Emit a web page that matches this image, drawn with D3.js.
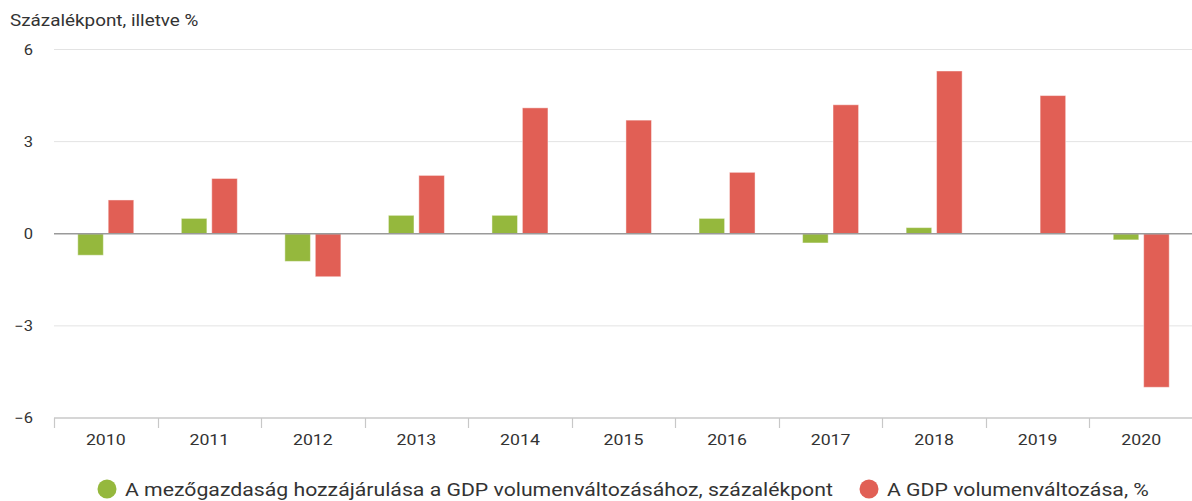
<!DOCTYPE html>
<html>
<head>
<meta charset="utf-8">
<script src="https://cdn.jsdelivr.net/npm/d3@7"></script>
<style>
  body { margin: 0; background: #fff; font-family: Roboto, 'Open Sans', sans-serif; }
  svg text { fill: #333; }
</style>
</head>
<body>
<svg id="chart"></svg>
<script>
const years = ['2010', '2011', '2012', '2013', '2014', '2015', '2016', '2017', '2018', '2019', '2020']
const agriContribution = [-0.7, 0.5, -0.9, 0.6, 0.6, 0, 0.5, -0.3, 0.2, 0, -0.2]
const gdpChange = [1.1, 1.8, -1.4, 1.9, 4.1, 3.7, 2.0, 4.2, 5.3, 4.5, -5.0]
const yTicks = [-6, -3, 0, 3, 6]
const seriesNames = ['A mezőgazdaság hozzájárulása a GDP volumenváltozásához, százalékpont', 'A GDP volumenváltozása, %']
const seriesColors = ['#95b83d', '#e15f55']
const yTitle = 'Százalékpont, illetve %'

const width = 1192
const height = 501
const margin = { top: 49.5, left: 54, right: -1, bottom: 83 }
// text in the source is a bit stretched sideways
const sx = 1.18

const svg = d3.select('#chart')
  .attr('width', width)
  .attr('height', height)

const x = d3.scaleBand()
  .domain(years)
  .range([margin.left, width - margin.right])

const bw = x.bandwidth()
const x1 = d3.scaleBand()
  .domain([0, 1])
  .range([bw / 2 - 28, bw / 2 + 28])
  .paddingInner(0.16)

const y = d3.scaleLinear()
  .domain([-6, 6])
  .range([height - margin.bottom, margin.top])

// gridlines
svg.append('g')
  .selectAll('line')
  .data(yTicks.filter(d => d !== 0 && d !== -6))
  .join('line')
  .attr('x1', margin.left)
  .attr('x2', width)
  .attr('y1', d => y(d))
  .attr('y2', d => y(d))
  .attr('stroke', '#e3e3e3')
  .attr('stroke-width', 1)

// y labels
svg.append('g')
  .selectAll('text')
  .data(yTicks)
  .join('text')
  .attr('transform', d => `translate(33,${y(d) + 5}) scale(${sx},1)`)
  .attr('text-anchor', 'end')
  .style('font-size', '14px')
  .text(d => d < 0 ? '\u2212' + Math.abs(d) : d)

svg.append('text')
  .attr('transform', `translate(10,26) scale(${sx},1)`)
  .style('font-size', '16px')
  .text(yTitle)

// bars
const rows = years.map((yr, i) => ({ year: yr, values: [agriContribution[i], gdpChange[i]] }))

svg.append('g')
  .selectAll('g')
  .data(rows)
  .join('g')
  .attr('transform', d => `translate(${x(d.year)},0)`)
  .selectAll('rect')
  .data(d => d.values.map((v, k) => ({ k, v })).filter(e => e.v !== 0))
  .join('rect')
  .attr('x', d => x1(d.k))
  .attr('width', x1.bandwidth())
  .attr('y', d => y(Math.max(0, d.v)))
  .attr('height', d => Math.abs(y(d.v) - y(0)))
  .attr('fill', d => seriesColors[d.k])
  .attr('stroke', 'rgba(255,255,255,0.45)')
  .attr('stroke-width', 1)

// zero line
svg.append('line')
  .attr('x1', margin.left)
  .attr('x2', width)
  .attr('y1', y(0))
  .attr('y2', y(0))
  .attr('stroke', '#9a9a9a')
  .attr('stroke-width', 1.5)

// x axis
const xAxis = svg.append('g')
  .attr('transform', `translate(0,${y(-6)})`)

xAxis.append('line')
  .attr('x1', margin.left)
  .attr('x2', width)
  .attr('stroke', '#c8c8c8')
  .attr('stroke-width', 1.5)

xAxis.selectAll('.tick')
  .data(years)
  .join('line')
  .attr('class', 'tick')
  .attr('x1', d => Math.round(x(d)) + 0.5)
  .attr('x2', d => Math.round(x(d)) + 0.5)
  .attr('y1', 0)
  .attr('y2', 10)
  .attr('stroke', '#c8c8c8')
  .attr('stroke-width', 1.2)

xAxis.selectAll('.lbl')
  .data(years)
  .join('text')
  .attr('class', 'lbl')
  .attr('transform', d => `translate(${x(d) + bw / 2},27) scale(${sx},1)`)
  .attr('text-anchor', 'middle')
  .style('font-size', '15px')
  .text(d => d)

// legend
const legendX = [107, 869]
const legend = svg.append('g')
  .selectAll('g')
  .data(seriesNames)
  .join('g')
  .attr('transform', (d, i) => `translate(${legendX[i]},489)`)

legend.append('circle')
  .attr('r', 9.5)
  .attr('fill', (d, i) => seriesColors[i])

legend.append('text')
  .attr('transform', `translate(18,6.5) scale(${sx},1)`)
  .style('font-size', '18px')
  .text(d => d)
</script>
</body>
</html>
